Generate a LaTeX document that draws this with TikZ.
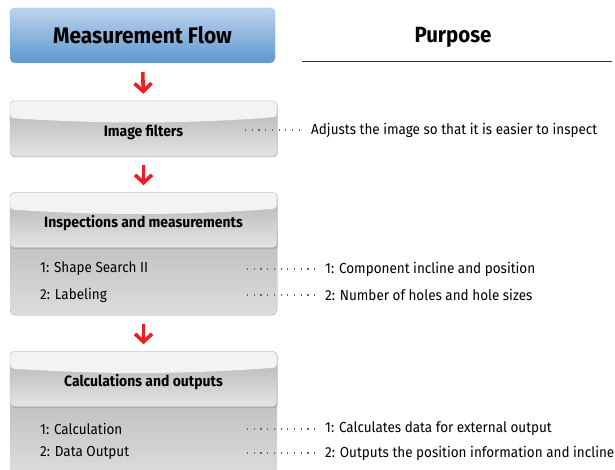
\documentclass[tikz,border=0pt]{standalone}
\usepackage{fontspec}
\setmainfont{Fira Sans}[FakeStretch=0.93]
\usetikzlibrary{arrows.meta,shadows}
\definecolor{bluetop}{HTML}{BDD4EE}
\definecolor{bluebot}{HTML}{5E97CE}
\definecolor{gloss}{HTML}{F3F3F3}
\definecolor{hdrtop}{HTML}{B2B2B2}
\definecolor{hdrbot}{HTML}{E4E4E4}
\definecolor{bodytop}{HTML}{BBBBBB}
\definecolor{bodybot}{HTML}{DCDCDC}
\definecolor{arrowred}{HTML}{EE1C24}
\begin{document}
\begin{tikzpicture}[x=1pt,y=-1pt,
  titlebox/.style={draw=bluebot!80!black!60, rounded corners=5pt, minimum width=265pt, minimum height=55pt,
    inner sep=0pt, top color=bluetop, bottom color=bluebot, font=\bfseries\fontsize{22.5}{26}\selectfont},
  hdrbox/.style={draw=gray!55, rounded corners=4pt, minimum width=267pt, minimum height=55pt, inner sep=0pt,
    top color=hdrtop, bottom color=hdrbot, text height=16.5pt, text depth=1pt,
    drop shadow={shadow xshift=0.8pt, shadow yshift=-1.5pt, opacity=0.35},
    font=\bfseries\fontsize{15}{17}\selectfont,
    path picture={\fill[gloss] (path picture bounding box.north west) -- ([yshift=-17pt]path picture bounding box.north west)
       .. controls ([xshift=90pt,yshift=-23pt]path picture bounding box.north west) and ([xshift=-90pt,yshift=-23pt]path picture bounding box.north east)
       .. ([yshift=-16pt]path picture bounding box.north east) -- (path picture bounding box.north east) -- cycle;}},
  bodybox/.style={rounded corners=5pt, top color=bodytop, bottom color=bodybot},
  item/.style={anchor=west, inner sep=0pt, font=\fontsize{14.5}{17}\selectfont},
  purp/.style={anchor=west, inner sep=0pt, font=\fontsize{14.5}{17}\selectfont},
  leader/.style={draw=gray!80!black, line width=1.2pt, dash pattern=on 1.2pt off 5.5pt},
  flowarrow/.style={draw=arrowred, line width=3.6pt, -{Straight Barb[length=8pt,width=17pt,line width=3.6pt]}}]
\useasboundingbox (0,0) rectangle (615,470);

% header row
\node[titlebox] (mf) at (142.5,35.5) {Measurement Flow};
\node[font=\bfseries\fontsize{22}{26}\selectfont, inner sep=0pt] (pu) at (453,37) {Purpose};
\coordinate (ul) at (302,62);
\coordinate (ur) at (612,62);
\draw[gray!40!black, line width=1pt] (ul) -- (ur);

% bodies (drawn before headers)
\fill[bodybox] (10,225) rectangle (277,315);
\fill[bodybox, rounded corners=0pt] (10,385) rectangle (277,475);

% step boxes
\node[hdrbox] (if) at (143.5,128.5) {Image filters};
\node[hdrbox] (im) at (143.5,220) {Inspections and measurements};
\node[hdrbox] (co) at (143.5,379) {Calculations and outputs};

% arrows
\draw[flowarrow, shorten <=9pt, shorten >=7pt] (mf.south) -- (if.north);
\draw[flowarrow, shorten <=9pt, shorten >=7pt] (if.south) -- (im.north);
\draw[flowarrow, shorten <=76pt, shorten >=7pt] (im.south) -- (co.north);

% items
\node[item] (i1) at (40,269) {1: Shape Search II};
\node[item] (i2) at (40,295) {2: Labeling};
\node[item] (c1) at (40,429) {1: Calculation};
\node[item] (c2) at (40,453) {2: Data Output};

% purposes
\node[purp] (p0) at (311,130) {Adjusts the image so that it is easier to inspect};
\node[purp] (p1) at (325,269) {1: Component incline and position};
\node[purp] (p2) at (325,295) {2: Number of holes and hole sizes};
\node[purp] (p3) at (325,429) {1: Calculates data for external output};
\node[purp] (p4) at (325,453) {2: Outputs the position information and incline};

% leaders
\coordinate (d0) at (245,130);
\coordinate (d1) at (247,269);
\coordinate (d2) at (247,295);
\coordinate (d3) at (247,429);
\coordinate (d4) at (247,453);
\draw[leader] (d0) -- ([xshift=-9pt]p0.west);
\draw[leader] (d1) -- ([xshift=-10pt]p1.west);
\draw[leader] (d2) -- ([xshift=-10pt]p2.west);
\draw[leader] (d3) -- ([xshift=-10pt]p3.west);
\draw[leader] (d4) -- ([xshift=-10pt]p4.west);
\end{tikzpicture}
\end{document}
